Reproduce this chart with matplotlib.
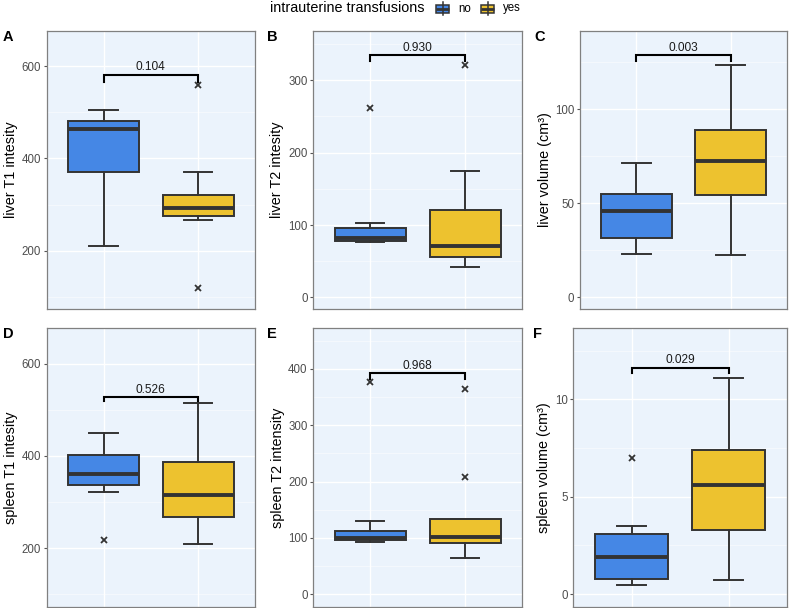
import matplotlib
matplotlib.use('Agg')
import matplotlib.pyplot as plt
from matplotlib.patches import Rectangle
from matplotlib.ticker import FixedLocator

plt.rcParams['font.family'] = ['Liberation Sans', 'DejaVu Sans']

# data (box stats per panel)
panel_tags = ['A', 'B', 'C', 'D', 'E', 'F']
ylabels = ['liver T1 intesity', 'liver T2 intesity', 'liver volume (cm³)',
           'spleen T1 intesity', 'spleen T2 intensity', 'spleen volume (cm³)']
p_values = ['0.104', '0.930', '0.003', '0.526', '0.968', '0.029']
groups = ['no', 'yes']

# group "no"
lo_no = [210, 77, 23, 322, 93.5, 0.48]
q1_no = [370, 78, 31.7, 337.5, 96.4, 0.77]
med_no = [464, 82, 46, 360.6, 99.5, 1.9]
q3_no = [482, 96, 54.8, 402.8, 113, 3.08]
hi_no = [506, 103, 71.6, 450, 129.6, 3.5]
out_no = [[], [262], [], [218], [376.5], [7.0]]

# group "yes"
lo_yes = [267, 42, 22.5, 208.6, 65, 0.72]
q1_yes = [274.5, 56, 54.4, 267, 90.6, 3.3]
med_yes = [293, 71, 72.5, 315, 102.3, 5.6]
q3_yes = [321.6, 121, 89, 387, 133, 7.4]
hi_yes = [370, 174, 123.7, 515, 133, 11.1]
out_yes = [[559, 119], [321], [], [], [365, 208], []]

# significance brackets
bracket_top = [582, 335, 128.8, 528, 392.5, 11.62]
bracket_end = [566, 326, 125.7, 519, 382, 11.33]

yticks = [[200, 400, 600], [0, 100, 200, 300], [0, 50, 100],
          [200, 400, 600], [0, 100, 200, 300, 400], [0, 5, 10]]
yminor = [[100, 300, 500], [50, 150, 250, 350], [25, 75, 125],
          [100, 300, 500], [50, 150, 250, 350, 450], [2.5, 7.5, 12.5]]
ylims = [(73, 677), (-16, 368), (-6.2, 141.6), (73, 677), (-22, 472), (-0.64, 13.64)]

W, H = 790, 608
BLUE = '#4587E5'
YELLOW = '#EDC22F'
BG = '#EBF3FC'
DARK = '#333333'

# pixel boxes of the panels: left, top, right, bottom
boxes = [(46.7, 31, 255, 309), (313.3, 31, 522, 309), (580, 31, 787, 309),
         (46.7, 328.3, 255, 606.7), (313.3, 328.3, 522, 606.7), (573.3, 328.3, 787, 606.7)]
label_x = [11, 277, 545, 11, 278, 544]
tag_x = [3, 267, 534, 3, 267, 533]

fig = plt.figure(figsize=(W / 100, H / 100), dpi=100)
ov = fig.add_axes([0, 0, 1, 1])
ov.set_xlim(0, W)
ov.set_ylim(H, 0)
ov.axis('off')

for i in range(6):
    l, t, r, b = boxes[i]
    ax = fig.add_axes([l / W, 1 - b / H, (r - l) / W, (b - t) / H])
    ax.set_facecolor(BG)
    stats = [dict(med=med_no[i], q1=q1_no[i], q3=q3_no[i], whislo=lo_no[i], whishi=hi_no[i], fliers=out_no[i]),
             dict(med=med_yes[i], q1=q1_yes[i], q3=q3_yes[i], whislo=lo_yes[i], whishi=hi_yes[i], fliers=out_yes[i])]
    bp = ax.bxp(stats, positions=[1, 2], widths=0.75, patch_artist=True, capwidths=0.3,
                boxprops=dict(edgecolor=DARK, linewidth=1.4),
                medianprops=dict(color=DARK, linewidth=2.8, solid_capstyle='butt'),
                whiskerprops=dict(color=DARK, linewidth=1.4),
                capprops=dict(color=DARK, linewidth=1.4),
                flierprops=dict(marker='x', markeredgecolor=DARK, markersize=5, markeredgewidth=1.3))
    for patch, c in zip(bp['boxes'], [BLUE, YELLOW]):
        patch.set_facecolor(c)

    ax.plot([1, 1, 2, 2], [bracket_end[i], bracket_top[i], bracket_top[i], bracket_end[i]],
            color='black', lw=1.5, solid_joinstyle='miter')
    ax.annotate(p_values[i], (1.5, bracket_top[i]), xytext=(0, 1), textcoords='offset points',
                ha='center', va='bottom', fontsize=8.6, color='#1a1a1a')

    ax.set_xlim(0.4, 2.6)
    ax.set_ylim(*ylims[i])
    ax.set_xticks([1, 2])
    ax.set_yticks(yticks[i])
    ax.yaxis.set_minor_locator(FixedLocator(yminor[i]))
    ax.tick_params(axis='x', length=0, labelbottom=False)
    ax.tick_params(axis='y', which='major', length=2.5, width=0.8, color='#555555',
                   labelsize=8.3, labelcolor='#4D4D4D', pad=1.5)
    ax.tick_params(which='minor', length=0)
    ax.grid(which='major', color='white', lw=1.0)
    ax.grid(which='minor', axis='y', color='white', lw=0.5, alpha=0.7)
    ax.set_axisbelow(True)
    for s in ax.spines.values():
        s.set_color('#808080')
        s.set_linewidth(0.9)

    ov.text(label_x[i], (t + b) / 2, ylabels[i], rotation=90, ha='center', va='center',
            fontsize=10.4, color='black')
    ov.text(tag_x[i], t - 1, panel_tags[i], ha='left', va='top', fontsize=10.5,
            fontweight='bold', color='black')

# legend at the top
ov.text(270, 8.5, 'intrauterine transfusions', ha='left', va='center', fontsize=10.4)
for x0, c, name in [(435, BLUE, groups[0]), (480, YELLOW, groups[1])]:
    ov.plot([x0 + 7.5, x0 + 7.5], [2, 15], color=DARK, lw=1.1)
    ov.add_patch(Rectangle((x0 + 1, 4.5), 13, 8, facecolor=c, edgecolor=DARK, lw=1.1))
    ov.plot([x0 + 1, x0 + 14], [8.5, 8.5], color=DARK, lw=2.0, solid_capstyle='butt')
    ov.text(x0 + 23, 8.5, name, ha='left', va='center', fontsize=8.3)

fig.savefig('out.png', dpi=100)
